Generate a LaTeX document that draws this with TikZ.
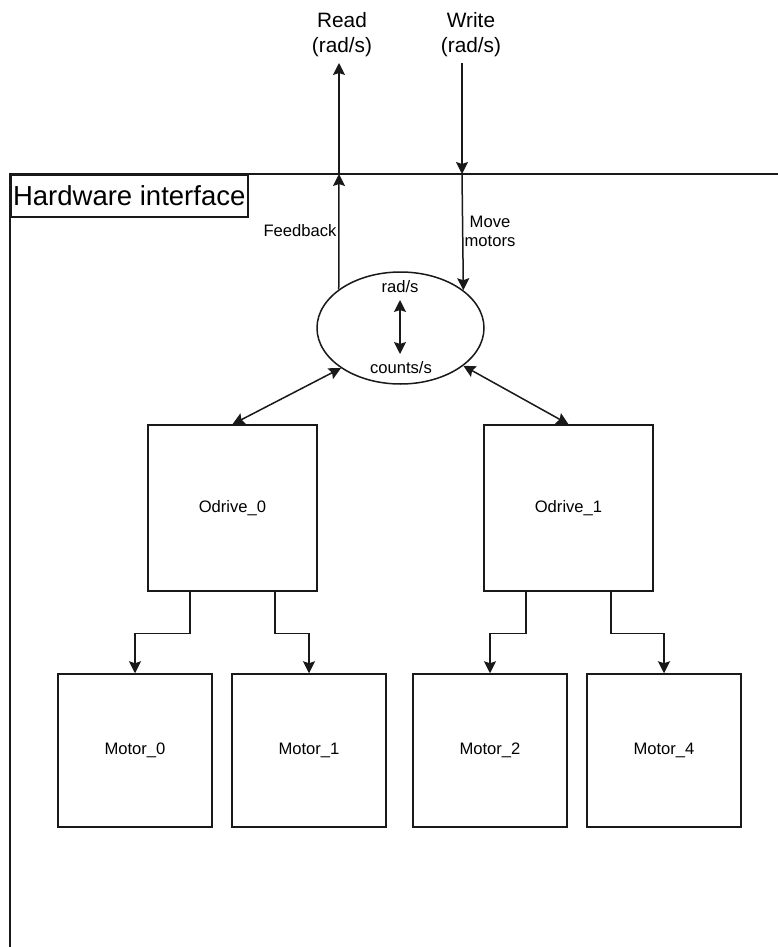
\documentclass[tikz,border=0pt]{standalone}
\usepackage{fontspec}
\setmainfont{Liberation Sans}
\usetikzlibrary{arrows.meta,shapes.geometric,calc}
\begin{document}
\begin{tikzpicture}[x=1pt,y=-1pt,
  ln/.style={line width=1.5pt, draw=black!90},
  tipA/.tip={Stealth[length=12pt,width=12pt,inset=2pt]},
  arr/.style={ln, -tipA},
  darr/.style={ln, tipA-tipA},
  box/.style={draw=black!90, line width=1.5pt, rectangle, inner sep=0pt, font=\fontsize{16.6}{19}\selectfont},
  odbox/.style={box, minimum width=169pt, minimum height=166pt},
  motbox/.style={box, minimum width=154pt, minimum height=153pt},
  small/.style={font=\fontsize{16.6}{19}\selectfont, align=center, inner sep=0pt},
  mid/.style={font=\fontsize{20.8}{25}\selectfont, align=center, inner sep=0pt}
]
\fill[white] (0,0) rectangle (778,947);
\useasboundingbox (0,0) rectangle (778,947);

% frame of the hardware interface
\draw[ln] (779,174) -- (10,174) -- (10,948);
\node[draw=black!90, line width=1.5pt, rectangle, anchor=north west,
      minimum height=42pt, minimum width=237pt, inner sep=0pt,
      font=\fontsize{27.5}{30}\selectfont] (hw) at (10,174) {Hardware interface};

% ellipse
\node[ellipse, draw=black!90, line width=1.5pt, minimum width=167pt, minimum height=112pt, inner sep=0pt] (ell) at (400.5,328) {};
\node[small] (rads) at (400,287) {rad/s};
\node[small] (cnts) at (401,368) {counts/s};
\coordinate (cvA) at (400,300);
\coordinate (cvB) at (400,354);
\draw[darr] (cvA) -- (cvB);

% read / write
\node[mid] (readlbl) at (342,35) {Read\\(rad/s)};
\node[mid] (writelbl) at (471,35) {Write\\(rad/s)};
\coordinate (readTop) at (339,63);
\coordinate (readFr) at (339,174);
\coordinate (writeTop) at (462,63);
\coordinate (writeFr) at (462,174);
\draw[arr] (ell.148.4) -- (readFr);
\draw[arr] (readFr) -- (readTop);
\draw[arr] (writeTop) -- (writeFr);
\draw[arr] (writeFr) -- (ell.31.6);
\node[small] (fb) at (300,231) {Feedback};
\node[small] (mv) at (490,231) {Move\\motors};

% odrives
\node[odbox] (o0) at (232.5,508) {Odrive\_0};
\node[odbox] (o1) at (568.5,508) {Odrive\_1};
\draw[darr] (o0.north) -- (ell.-146.3);
\draw[darr] (ell.-31.2) -- (o1.north);

% motors
\node[motbox] (m0) at (135,750.5) {Motor\_0};
\node[motbox] (m1) at (309,750.5) {Motor\_1};
\node[motbox] (m2) at (490,750.5) {Motor\_2};
\node[motbox] (m4) at (664,750.5) {Motor\_4};

\draw[arr] ($(o0.south west)!0.25!(o0.south east)$) -- ++(0,41.5) -| (m0.north);
\draw[arr] ($(o0.south west)!0.75!(o0.south east)$) -- ++(0,41.5) -| (m1.north);
\draw[arr] ($(o1.south west)!0.25!(o1.south east)$) -- ++(0,41.5) -| (m2.north);
\draw[arr] ($(o1.south west)!0.75!(o1.south east)$) -- ++(0,41.5) -| (m4.north);
\end{tikzpicture}
\end{document}
